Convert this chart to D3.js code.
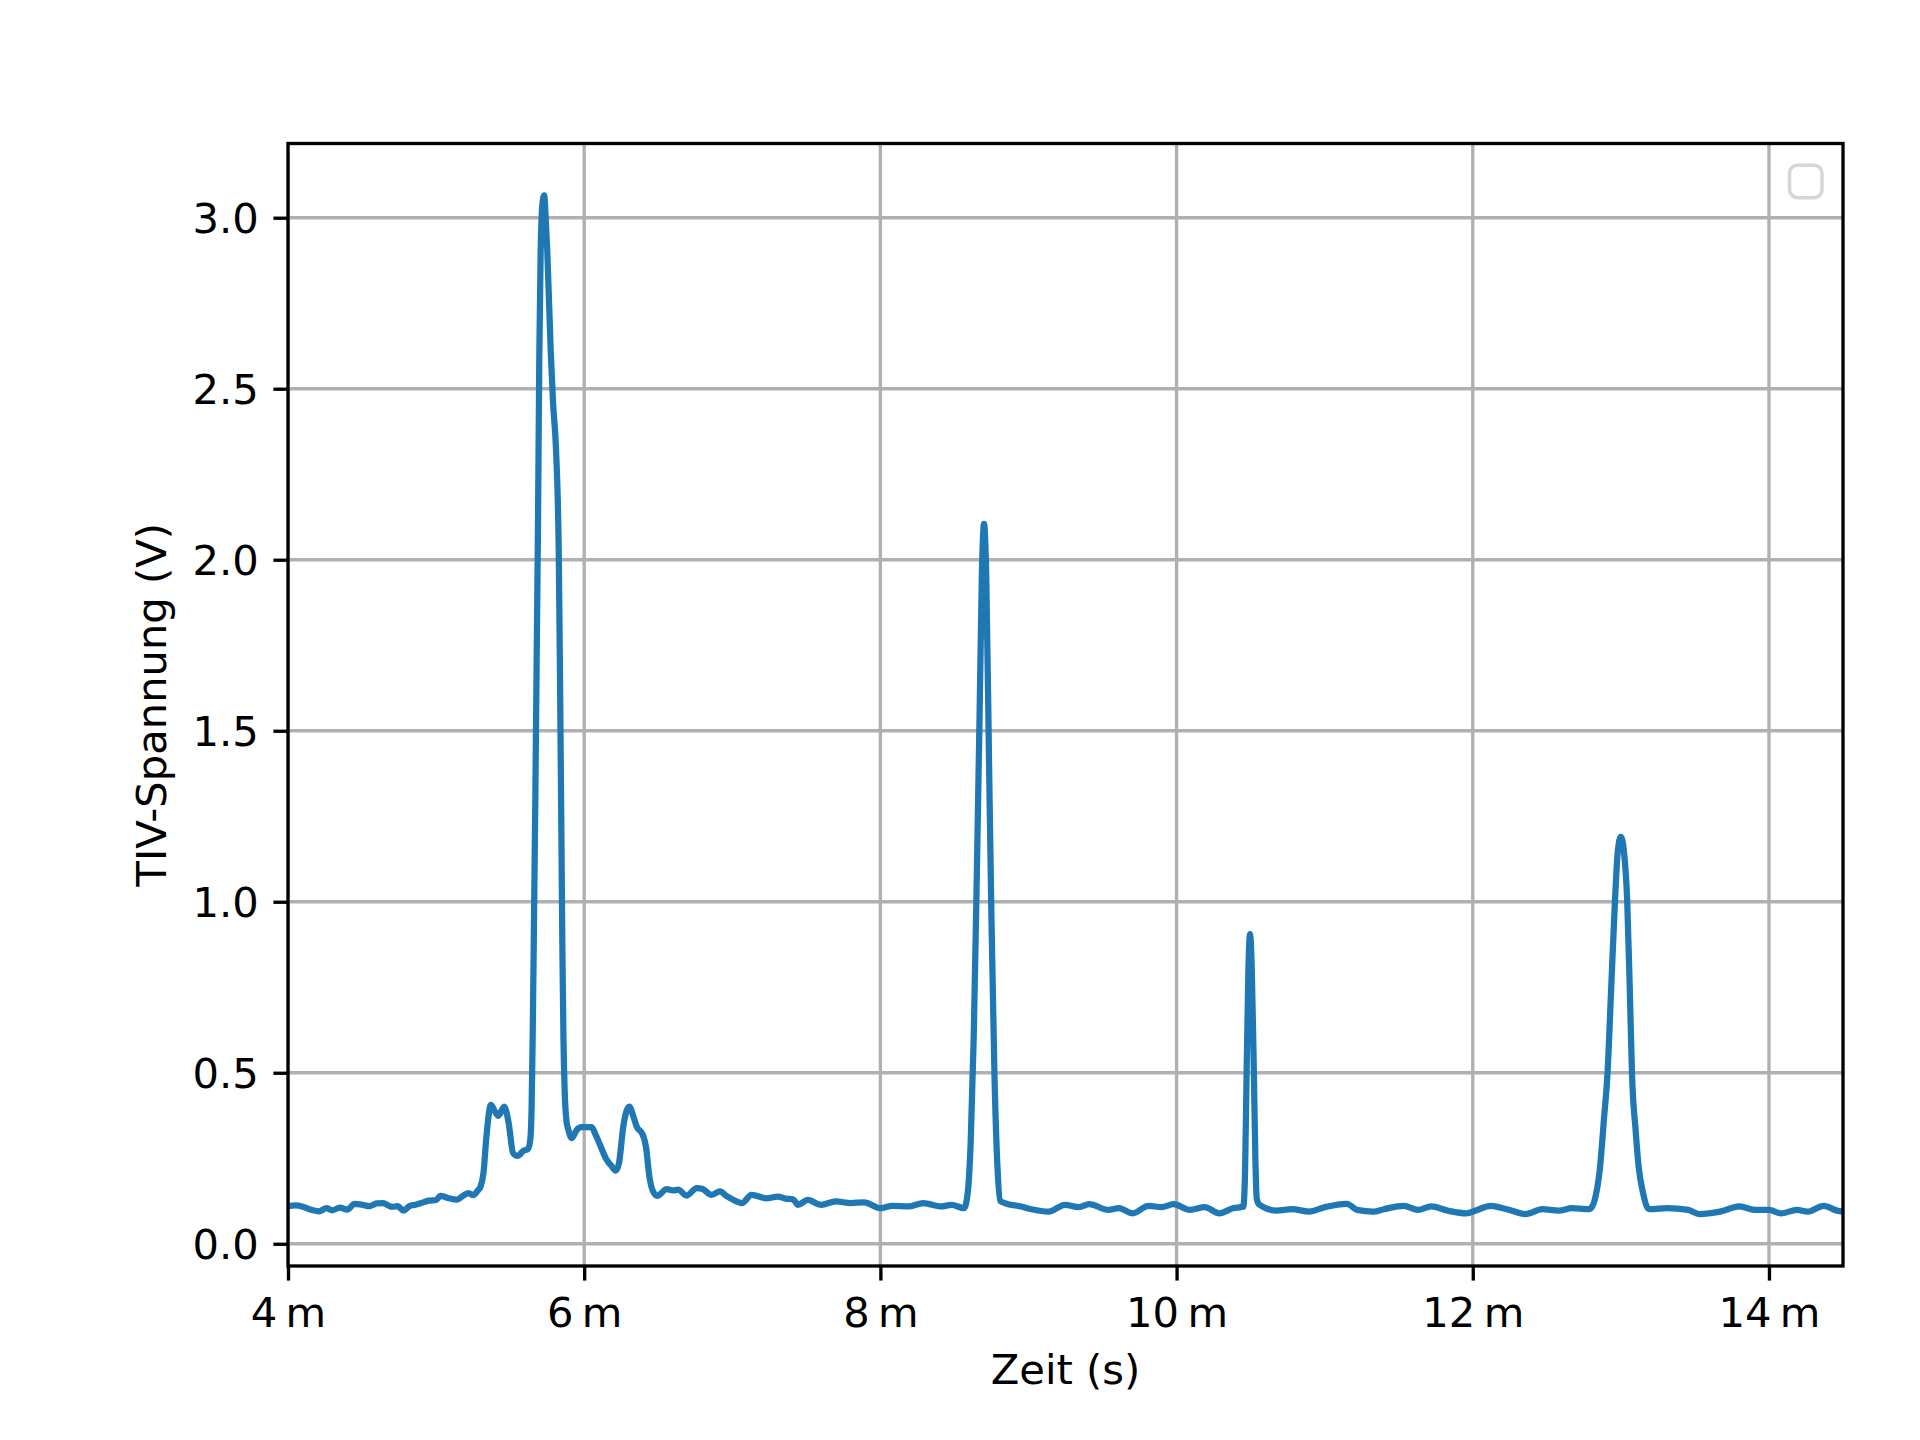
<!DOCTYPE html>
<html>
<head>
<meta charset="utf-8">
<script src="https://cdn.jsdelivr.net/npm/d3@7"></script>
<style>
  html, body { margin: 0; padding: 0; background: #ffffff; }
  svg { display: block; }
  text { font-family: "DejaVu Sans", sans-serif; fill: #000; }
</style>
</head>
<body>
<svg id="chart" width="1920" height="1440"></svg>
<script>
// ---- data (time in milliseconds, voltage in V) ----
const timeMs = [
  4.00,4.05,4.10,4.15,4.21,4.26,4.30,4.35,4.40,4.45,4.50,4.55,4.60,4.64,4.70,4.74,4.78,4.82,4.86,4.90,
  4.95,5.00,5.03,5.08,5.14,5.18,5.22,5.25,5.28,5.30,5.32,5.34,5.37,5.40,5.42,5.46,5.49,5.52,5.55,5.59,
  5.62,5.635,5.645,5.652,5.66,5.67,5.68,5.688,5.697,5.706,5.718,5.730,5.742,5.751,5.774,5.790,5.810,5.828,5.838,5.846,
  5.853,5.860,5.868,5.880,5.893,5.916,5.950,5.983,6.050,6.073,6.107,6.152,6.180,6.213,6.235,6.264,6.305,6.332,6.354,6.395,
  6.417,6.440,6.465,6.494,6.557,6.600,6.634,6.692,6.760,6.800,6.860,6.917,6.960,7.00,7.065,7.13,7.23,7.307,7.36,7.41,
  7.444,7.51,7.60,7.70,7.80,7.89,8.00,8.08,8.19,8.29,8.41,8.48,8.565,8.59,8.61,8.63,8.65,8.67,8.685,8.70,
  8.715,8.734,8.75,8.77,8.79,8.81,8.84,8.95,9.02,9.137,9.246,9.34,9.41,9.54,9.61,9.704,9.81,9.90,9.98,10.09,
  10.19,10.29,10.38,10.45,10.462,10.473,10.485,10.496,10.508,10.522,10.532,10.542,10.56,10.674,10.78,10.894,11.00,11.15,11.22,11.33,
  11.40,11.534,11.63,11.72,11.83,11.955,12.03,12.12,12.23,12.357,12.47,12.58,12.67,12.78,12.80,12.83,12.86,12.885,12.91,12.935,
  12.96,12.98,13.00,13.02,13.043,13.06,13.075,13.10,13.12,13.15,13.18,13.20,13.31,13.455,13.53,13.67,13.80,13.91,14.00,14.08,
  14.19,14.26,14.37,14.46,14.50
];
const voltage = [
  0.110,0.112,0.108,0.100,0.095,0.104,0.098,0.106,0.100,0.117,0.114,0.110,0.118,0.119,0.108,0.110,0.097,0.110,0.114,0.119,
  0.126,0.128,0.140,0.134,0.129,0.140,0.148,0.142,0.155,0.167,0.207,0.314,0.406,0.385,0.374,0.401,0.353,0.265,0.257,0.272,
  0.277,0.300,0.400,0.600,0.900,1.300,1.750,2.100,2.600,2.900,3.040,3.065,2.980,2.900,2.610,2.457,2.320,2.030,1.600,1.200,
  0.850,0.600,0.450,0.360,0.333,0.309,0.333,0.341,0.341,0.323,0.289,0.245,0.230,0.214,0.236,0.343,0.401,0.372,0.343,0.319,
  0.284,0.197,0.153,0.140,0.160,0.156,0.158,0.141,0.163,0.160,0.143,0.153,0.140,0.130,0.119,0.143,0.133,0.138,0.132,0.130,
  0.114,0.128,0.114,0.124,0.119,0.121,0.104,0.111,0.109,0.119,0.109,0.114,0.104,0.150,0.300,0.600,1.050,1.550,1.950,2.105,
  1.950,1.400,0.950,0.500,0.230,0.125,0.119,0.109,0.101,0.094,0.114,0.107,0.116,0.099,0.104,0.089,0.111,0.107,0.116,0.099,
  0.107,0.089,0.104,0.108,0.200,0.500,0.800,0.905,0.800,0.500,0.250,0.130,0.114,0.097,0.101,0.094,0.107,0.117,0.099,0.094,
  0.101,0.111,0.099,0.109,0.097,0.089,0.099,0.111,0.101,0.087,0.101,0.097,0.104,0.101,0.105,0.140,0.226,0.360,0.500,0.750,
  1.000,1.150,1.190,1.150,1.000,0.750,0.500,0.330,0.226,0.148,0.105,0.101,0.104,0.099,0.087,0.094,0.109,0.099,0.099,0.089,
  0.099,0.094,0.111,0.097,0.094
];
const xTickValues = [4, 6, 8, 10, 12, 14];
const xTickLabels = ["4\u2009m", "6\u2009m", "8\u2009m", "10\u2009m", "12\u2009m", "14\u2009m"];
const yTickValues = [0, 0.5, 1.0, 1.5, 2.0, 2.5, 3.0];
const yTickLabels = ["0.0", "0.5", "1.0", "1.5", "2.0", "2.5", "3.0"];
const xLabel = "Zeit (s)";
const yLabel = "TIV-Spannung (V)";

// ---- layout ----
const plot = { left: 288, right: 1843, top: 143.5, bottom: 1266 };
const fontPx = 41.67;
const tickLen = 14.58, tickPad = 14.58, lw = 3.33;

const svg = d3.select("#chart");
const x = d3.scaleLinear().domain([4, 14.5]).range([plot.left, plot.right]);
const y = d3.scaleLinear().domain([-0.065, 3.217]).range([plot.bottom, plot.top]);

// clip
svg.append("defs").append("clipPath").attr("id", "clip")
  .append("rect").attr("x", plot.left).attr("y", plot.top)
  .attr("width", plot.right - plot.left).attr("height", plot.bottom - plot.top);

// grid
const grid = svg.append("g").attr("clip-path", "url(#clip)");
grid.selectAll("line.gx").data(xTickValues).join("line")
  .attr("x1", d => x(d)).attr("x2", d => x(d))
  .attr("y1", plot.top).attr("y2", plot.bottom)
  .attr("stroke", "#b0b0b0").attr("stroke-width", lw);
grid.selectAll("line.gy").data(yTickValues).join("line")
  .attr("class", "gy")
  .attr("x1", plot.left).attr("x2", plot.right)
  .attr("y1", d => y(d)).attr("y2", d => y(d))
  .attr("stroke", "#b0b0b0").attr("stroke-width", lw);

// data line
const pts = timeMs.map((t, i) => [t, voltage[i]]);
const line = d3.line().x(d => x(d[0])).y(d => y(d[1])).curve(d3.curveMonotoneX);
svg.append("g").attr("clip-path", "url(#clip)")
  .append("path").datum(pts)
  .attr("d", line)
  .attr("fill", "none").attr("stroke", "#1f77b4")
  .attr("stroke-width", 6.25).attr("stroke-linejoin", "round").attr("stroke-linecap", "butt");

// axes
const xAxis = d3.axisBottom(x).tickValues(xTickValues)
  .tickFormat((d, i) => xTickLabels[i]).tickSize(tickLen).tickPadding(tickPad).tickSizeOuter(0);
const gx = svg.append("g").attr("transform", `translate(0,${plot.bottom})`).call(xAxis);
gx.select(".domain").remove();
gx.selectAll(".tick line").attr("stroke", "#000").attr("stroke-width", lw);
gx.selectAll(".tick text").attr("font-size", fontPx).attr("font-family", "DejaVu Sans")
  .attr("fill", "#000").attr("dy", "0.77em");

const yAxis = d3.axisLeft(y).tickValues(yTickValues)
  .tickFormat((d, i) => yTickLabels[i]).tickSize(tickLen).tickPadding(tickPad).tickSizeOuter(0);
const gy = svg.append("g").attr("transform", `translate(${plot.left},0)`).call(yAxis);
gy.select(".domain").remove();
gy.selectAll(".tick line").attr("stroke", "#000").attr("stroke-width", lw);
gy.selectAll(".tick text").attr("font-size", fontPx).attr("font-family", "DejaVu Sans")
  .attr("fill", "#000").attr("dy", "0.36em");

// spines
svg.append("rect")
  .attr("x", plot.left).attr("y", plot.top)
  .attr("width", plot.right - plot.left).attr("height", plot.bottom - plot.top)
  .attr("fill", "none").attr("stroke", "#000").attr("stroke-width", lw)
  .attr("stroke-linejoin", "miter");

// empty legend frame (upper right)
svg.append("rect")
  .attr("x", 1789.5).attr("y", 165.2).attr("width", 32.5).attr("height", 32.5)
  .attr("rx", 8).attr("ry", 8)
  .attr("fill", "#ffffff").attr("fill-opacity", 0.8)
  .attr("stroke", "#d6d6d6").attr("stroke-width", 3.5);

// axis labels
svg.append("text")
  .attr("x", (plot.left + plot.right) / 2).attr("y", 1384)
  .attr("text-anchor", "middle").attr("font-size", fontPx)
  .text(xLabel);
svg.append("text")
  .attr("transform", `translate(166,${(plot.top + plot.bottom) / 2}) rotate(-90)`)
  .attr("text-anchor", "middle").attr("font-size", fontPx)
  .text(yLabel);
</script>
</body>
</html>
